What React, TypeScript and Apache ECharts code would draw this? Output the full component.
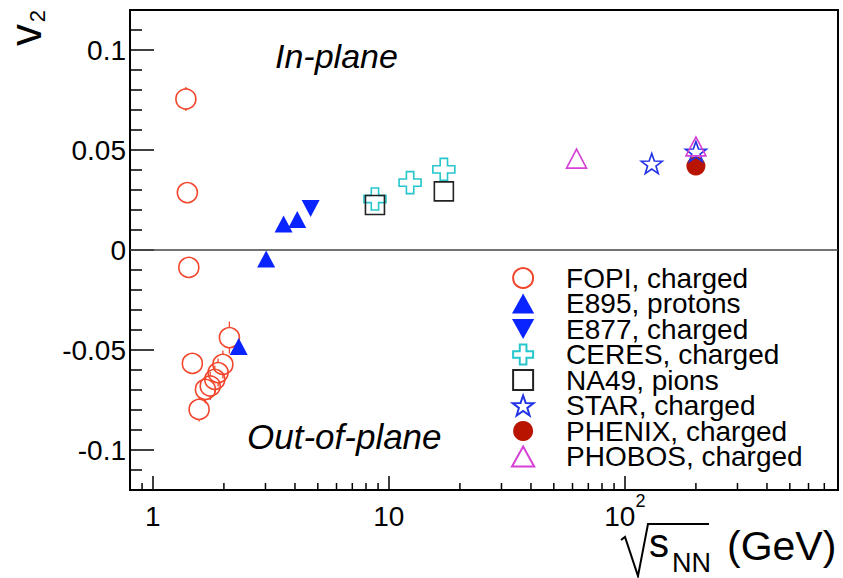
import React, { useEffect, useRef } from "react";
import * as echarts from "echarts";

const FONT = "'Liberation Sans', Arial, Helvetica, sans-serif";

const xMin = 0.8;
const xMax = 800;
const yMin = -0.12;
const yMax = 0.12;
const xMinorTicks = [0.9, 2, 3, 4, 5, 6, 7, 8, 9, 20, 30, 40, 50, 60, 70, 80, 90, 200, 300, 400, 500, 600, 700];

const seriesNames = [
  "FOPI, charged",
  "E895, protons",
  "E877, charged",
  "CERES, charged",
  "NA49, pions",
  "STAR, charged",
  "PHENIX, charged",
  "PHOBOS, charged",
];

const fopiE = [1.38, 1.40, 1.42, 1.47, 2.11, 1.98, 1.89, 1.83, 1.75, 1.67, 1.57];
const fopiV2 = [0.0755, 0.0287, -0.0087, -0.0567, -0.0438, -0.0572, -0.0613, -0.0647, -0.068, -0.0697, -0.0797];
const fopiErr = [0.006, 0.003, 0.003, 0.003, 0.008, 0.007, 0.007, 0.007, 0.007, 0.007, 0.006];

const e895E = [2.31, 3.02, 3.58, 4.09];
const e895V2 = [-0.0483, -0.0045, 0.013, 0.0153];

const e877E = [4.66];
const e877V2 = [0.0207];

const ceresE = [8.73, 12.3, 17.1];
const ceresV2 = [0.0255, 0.0337, 0.0403];

const na49E = [8.73, 17.1];
const na49V2 = [0.0225, 0.0293];

const starE = [130, 200];
const starV2 = [0.0432, 0.0492];

const phenixE = [200];
const phenixV2 = [0.042];

const phobosE = [62.4, 200];
const phobosV2 = [0.0457, 0.0518];

const C_FOPI = "#f2462c";
const C_E895 = "#0a24ff";
const C_E877 = "#0a24ff";
const C_CERES = "#26c6cc";
const C_NA49 = "#222222";
const C_STAR = "#2233e6";
const C_PHENIX = "#b81400";
const C_PHOBOS = "#d640d6";

const P_TRI_UP = "path://M1,0L2,1.8L0,1.8Z";
const P_TRI_DOWN = "path://M0,0L2,0L1,1.8Z";
const P_SQUARE = "path://M0,0L1,0L1,1L0,1Z";
const P_CROSS = "path://M1,0L2,0L2,1L3,1L3,2L2,2L2,3L1,3L1,2L0,2L0,1L1,1Z";
const P_STAR =
  "path://M0,-1L0.235,-0.324L0.951,-0.309L0.381,0.124L0.588,0.809L0,0.4L-0.588,0.809L-0.381,0.124L-0.951,-0.309L-0.235,-0.324Z";

const zip = (xs: number[], ys: number[]) => xs.map((x, i) => [x, ys[i]]);

const openStyle = (c: string) => ({ color: "rgba(255,255,255,0)", borderColor: c, borderWidth: 1.6, opacity: 1 });
const filledStyle = (c: string) => ({ color: c, borderColor: c, borderWidth: 0, opacity: 1 });

export default function App() {
  const ref = useRef<HTMLDivElement>(null);

  useEffect(() => {
    const chart = echarts.init(ref.current!, null, { renderer: "svg" });

    const scatter = (name: string, data: number[][], symbol: string, size: any, itemStyle: any, extra: any = {}) => ({
      type: "scatter",
      name,
      data,
      symbol,
      symbolSize: size,
      itemStyle,
      silent: true,
      emphasis: { disabled: true },
      z: 5,
      ...extra,
    });

    const option: any = {
      animation: false,
      backgroundColor: "#ffffff",
      grid: {
        left: 130,
        right: 5,
        top: 10,
        bottom: 88,
        show: true,
        borderColor: "#000",
        borderWidth: 2,
        backgroundColor: "rgba(0,0,0,0)",
        containLabel: false,
        outerBoundsMode: "none",
      },
      xAxis: {
        type: "log",
        logBase: 10,
        min: xMin,
        max: xMax,
        axisLine: { show: true, onZero: false, lineStyle: { color: "#000", width: 2 } },
        axisTick: { show: true, inside: true, length: 14, lineStyle: { color: "#000", width: 1.5 } },
        minorTick: { show: false },
        splitLine: { show: false },
        minorSplitLine: { show: false },
        axisLabel: {
          margin: 2,
          color: "#000",
          fontFamily: FONT,
          fontSize: 28,
          showMinLabel: false,
          showMaxLabel: false,
          formatter: (v: number) => {
            const l = Math.log10(v);
            const r = Math.round(l);
            if (Math.abs(l - r) > 1e-6) return "";
            if (r === 0) return "{b|1}";
            if (r === 1) return "{b|10}";
            return "{b|10}{s|" + r + "}";
          },
          rich: {
            b: { fontFamily: FONT, fontSize: 28, color: "#000", padding: [10, 0, 0, 0] },
            s: { fontFamily: FONT, fontSize: 18, color: "#000", verticalAlign: "top" },
          },
        },
      },
      yAxis: {
        type: "value",
        min: yMin,
        max: yMax,
        splitNumber: 5,
        axisLine: { show: true, onZero: false, lineStyle: { color: "#000", width: 2 } },
        axisTick: { show: true, inside: true, length: 24, lineStyle: { color: "#000", width: 1.5 } },
        minorTick: { show: true, splitNumber: 5, length: 12, lineStyle: { color: "#000", width: 1.5 } },
        splitLine: { show: false },
        minorSplitLine: { show: false },
        axisLabel: {
          margin: 4,
          color: "#000",
          fontFamily: FONT,
          fontSize: 28,
          formatter: (v: number) => (Math.abs(v) > 0.11 ? "" : String(+v.toFixed(3))),
        },
      },
      legend: {
        orient: "vertical",
        left: 511,
        top: 264,
        padding: 0,
        itemWidth: 76,
        itemHeight: 20,
        itemGap: -2.5,
        selectedMode: false,
        textStyle: { fontFamily: FONT, fontSize: 28, color: "#000" },
        data: seriesNames,
      },
      series: [
        {
          type: "custom",
          name: "fopi-err",
          silent: true,
          z: 4,
          data: fopiE.map((e, i) => [e, fopiV2[i], fopiErr[i]]),
          renderItem: (params: any, api: any) => {
            const x = api.value(0);
            const y = api.value(1);
            const e = api.value(2);
            const c = api.coord([x, y]);
            const t = api.coord([x, y + e]);
            const b = api.coord([x, y - e]);
            const r = 10;
            const children: any[] = [];
            const st = { stroke: C_FOPI, lineWidth: 1.3 };
            if (c[1] - t[1] > r) children.push({ type: "line", shape: { x1: c[0], y1: t[1], x2: c[0], y2: c[1] - r }, style: st });
            if (b[1] - c[1] > r) children.push({ type: "line", shape: { x1: c[0], y1: c[1] + r, x2: c[0], y2: b[1] }, style: st });
            return { type: "group", children };
          },
        },
        {
          type: "custom",
          name: "x-minor-ticks",
          silent: true,
          z: 6,
          data: xMinorTicks.map((v) => [v, yMin]),
          renderItem: (params: any, api: any) => {
            const p = api.coord([api.value(0), api.value(1)]);
            return {
              type: "line",
              shape: { x1: p[0], y1: p[1], x2: p[0], y2: p[1] - 7 },
              style: { stroke: "#000", lineWidth: 1.5 },
            };
          },
        },
        scatter(seriesNames[0], zip(fopiE, fopiV2), "circle", 20, openStyle(C_FOPI), {
          markLine: {
            silent: true,
            symbol: ["none", "none"],
            label: { show: false },
            emphasis: { disabled: true },
            lineStyle: { color: "#444", width: 1.5, type: "solid" },
            data: [{ yAxis: 0 }],
          },
        }),
        scatter(seriesNames[1], zip(e895E, e895V2), P_TRI_UP, [18, 17], filledStyle(C_E895)),
        scatter(seriesNames[2], zip(e877E, e877V2), P_TRI_DOWN, [18, 17], filledStyle(C_E877)),
        scatter(seriesNames[3], zip(ceresE, ceresV2), P_CROSS, 22, openStyle(C_CERES)),
        scatter(seriesNames[4], zip(na49E, na49V2), P_SQUARE, 19, openStyle(C_NA49)),
        scatter(seriesNames[6], zip(phenixE, phenixV2), "circle", 19, filledStyle(C_PHENIX)),
        scatter(seriesNames[5], zip(starE, starV2), P_STAR, [21, 20], openStyle(C_STAR), { z: 6 }),
        scatter(seriesNames[7], zip(phobosE, phobosV2), P_TRI_UP, [20, 19], openStyle(C_PHOBOS), { z: 7 }),
      ],
      graphic: [
        {
          type: "text",
          x: 25,
          y: 35,
          rotation: Math.PI / 2,
          style: { text: "v", font: `44px ${FONT}`, fill: "#000", textAlign: "center", textVerticalAlign: "middle" },
        },
        {
          type: "text",
          x: 37,
          y: 16,
          rotation: Math.PI / 2,
          style: { text: "2", font: `22px ${FONT}`, fill: "#000", textAlign: "center", textVerticalAlign: "middle" },
        },
        {
          type: "text",
          x: 275,
          y: 55.6,
          style: { text: "In-plane", font: `italic 34px ${FONT}`, fill: "#000", textAlign: "left", textVerticalAlign: "middle" },
        },
        {
          type: "text",
          x: 247,
          y: 436,
          style: { text: "Out-of-plane", font: `italic 35px ${FONT}`, fill: "#000", textAlign: "left", textVerticalAlign: "middle" },
        },
        {
          type: "polyline",
          shape: { points: [[621, 540], [625, 537], [638, 576], [648, 524], [709, 524]] },
          style: { stroke: "#000", lineWidth: 2, fill: null },
        },
        {
          type: "text",
          x: 649,
          y: 543,
          style: { text: "s", font: `40px ${FONT}`, fill: "#000", textAlign: "left", textVerticalAlign: "middle" },
        },
        {
          type: "text",
          x: 672,
          y: 563,
          style: { text: "NN", font: `27px ${FONT}`, fill: "#000", textAlign: "left", textVerticalAlign: "middle" },
        },
        {
          type: "text",
          x: 727,
          y: 546,
          style: { text: "(GeV)", font: `41px ${FONT}`, fill: "#000", textAlign: "left", textVerticalAlign: "middle" },
        },
      ],
    };

    chart.setOption(option);
    return () => chart.dispose();
  }, []);

  return <div ref={ref} style={{ position: "absolute", left: 0, top: 0, width: 843, height: 578 }} />;
}
